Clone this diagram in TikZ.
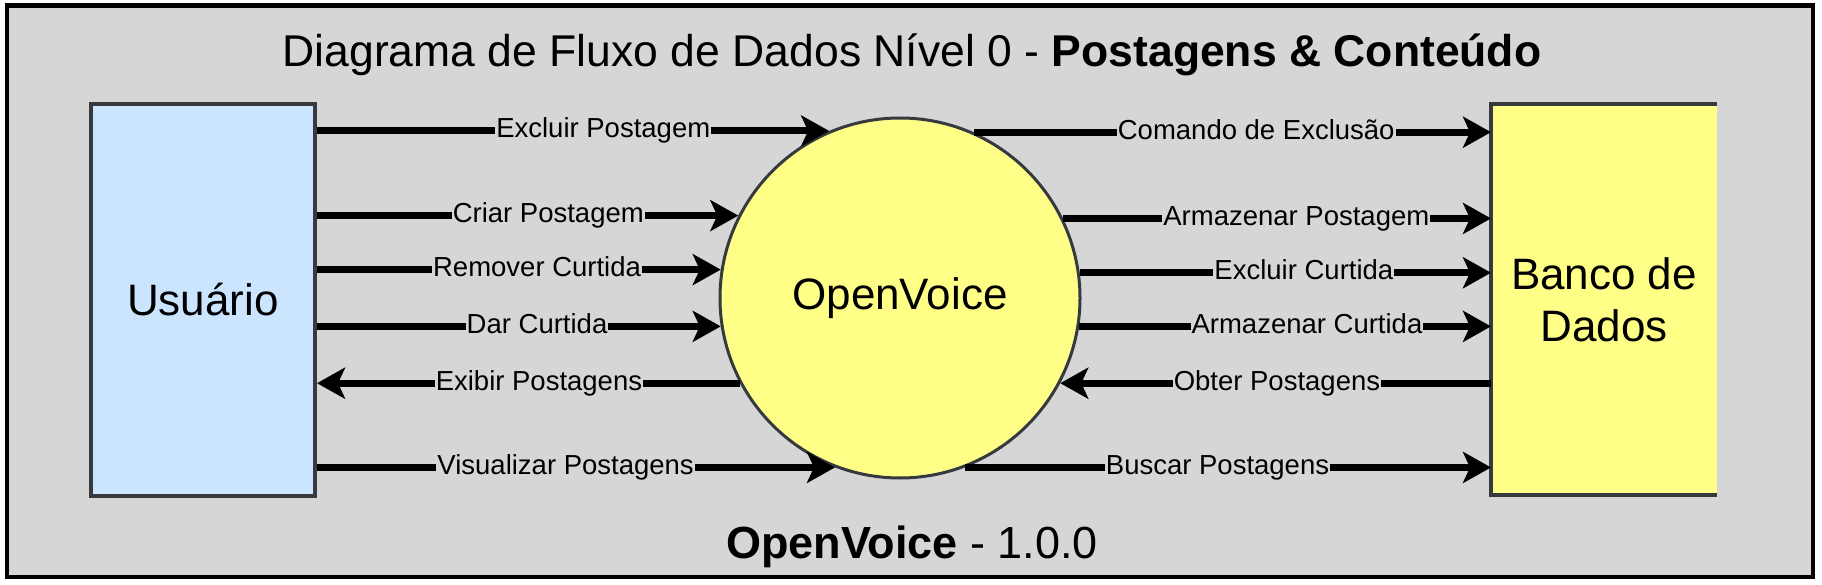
\documentclass[tikz,border=0pt]{standalone}
\usepackage{fontspec}
\setmainfont{Liberation Sans}
\usetikzlibrary{arrows.meta}
\definecolor{bgc}{HTML}{D6D6D6}
\definecolor{bluef}{HTML}{CCE5FF}
\definecolor{yelf}{HTML}{FFFF88}
\definecolor{bordc}{HTML}{36393D}
\begin{document}
\begin{tikzpicture}[x=1pt,y=-1pt,
  flow/.style={line width=7pt, -{Stealth[length=28pt,width=31pt,inset=7pt]}},
  lbl/.style={fill=bgc, inner sep=1pt, text height=20pt, text depth=6pt, font=\fontsize{27.5}{30}\selectfont, text=black},
  big/.style={font=\fontsize{44}{52}\selectfont, text=black}]
\useasboundingbox (0,0) rectangle (1822,585);
\fill[white] (0,0) rectangle (1822,585);
\draw[line width=4.5pt, fill=bgc] (7,5.5) rectangle (1813,577);

\node[anchor=base, font=\fontsize{44.5}{50}\selectfont] (title) at (912,67) {Diagrama de Fluxo de Dados Nível 0 - \textbf{Postagens \& Conteúdo}};
\node[anchor=base, font=\fontsize{45}{50}\selectfont] (foot) at (912,558) {\textbf{OpenVoice} - 1.0.0};

\node[draw=bordc, line width=4pt, fill=bluef, minimum width=224pt, minimum height=392pt, inner sep=0, big] (usr) at (203,300) {Usuário};
\node[fill=yelf, minimum width=226pt, minimum height=391pt, inner sep=0, outer sep=0, big, align=center] (db) at (1604,299.5) {Banco de\\Dados};
\draw[bordc, line width=4pt] (db.north east) -- (db.north west) -- (db.south west) -- (db.south east);
\node[circle, draw=bordc, line width=3pt, fill=yelf, minimum size=360pt, inner sep=0, big] (ov) at (900,298) {OpenVoice};

% left side
\draw[flow] (usr.east |- ov.113.07) -- (ov.113.07) node[lbl,pos=0.559] {Excluir Postagem};
\draw[flow] (usr.east |- ov.153.14) -- (ov.153.14) node[lbl,pos=0.549] {Criar Postagem};
\draw[flow] (usr.east |- ov.171.76) -- (ov.171.76) node[lbl,pos=0.545] {Remover Curtida};
\draw[flow] (usr.east |- ov.189.51) -- (ov.189.51) node[lbl,pos=0.545] {Dar Curtida};
\draw[flow] (ov.208.28) -- (usr.east |- ov.208.28) node[lbl,pos=0.475] {Exibir Postagens};
\draw[flow] (usr.east |- ov.249.50) -- (ov.249.50) node[lbl,pos=0.480] {Visualizar Postagens};

% right side
\draw[flow] (ov.66.93) -- (db.west |- ov.66.93) node[lbl,pos=0.546] {Comando de Exclusão};
\draw[flow] (ov.26.86) -- (db.west |- ov.26.86) node[lbl,pos=0.545] {Armazenar Postagem};
\draw[flow] (ov.8.24) -- (db.west |- ov.8.24) node[lbl,pos=0.545] {Excluir Curtida};
\draw[flow] (ov.-9.51) -- (db.west |- ov.-9.51) node[lbl,pos=0.553] {Armazenar Curtida};
\draw[flow] (db.west |- ov.-28.28) -- (ov.-28.28) node[lbl,pos=0.497] {Obter Postagens};
\draw[flow] (ov.-69.50) -- (db.west |- ov.-69.50) node[lbl,pos=0.480] {Buscar Postagens};
\end{tikzpicture}
\end{document}
